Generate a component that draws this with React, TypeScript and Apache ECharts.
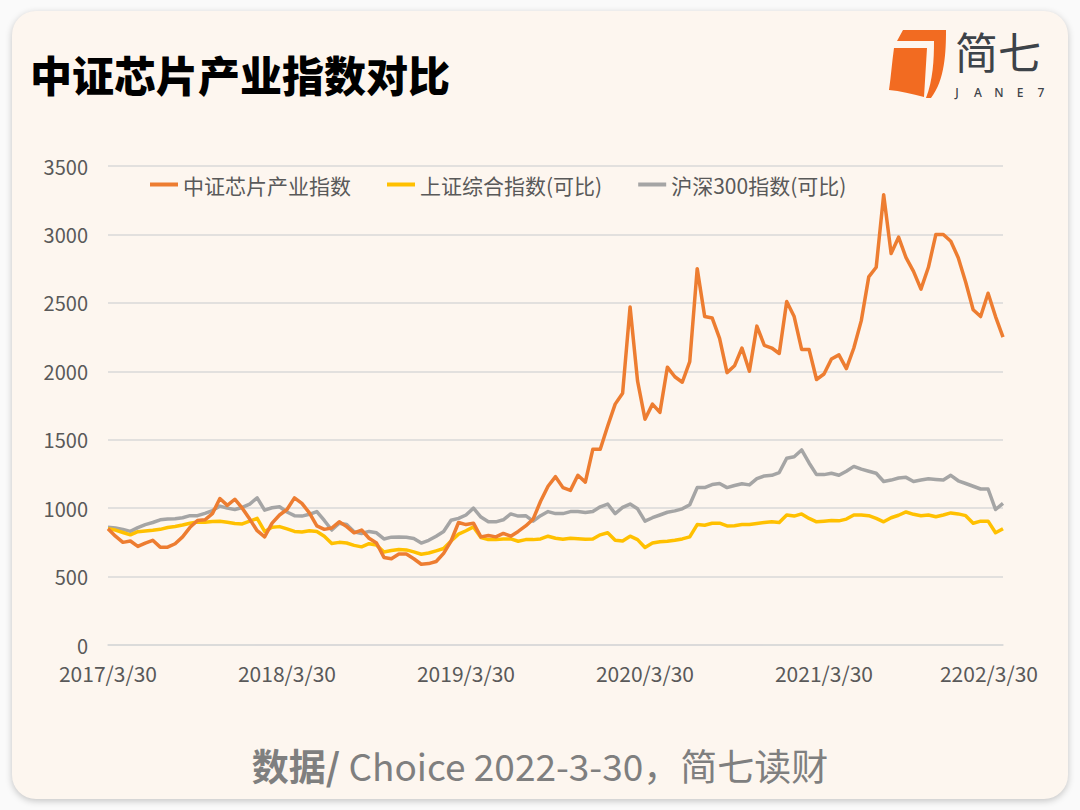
import React, { useEffect, useRef } from "react";
import * as echarts from "echarts";

// Semi-monthly samples from 2017/3/30 to 2022/3/30 (24 per year, 121 points)
const chipIndex = [
  850, 795, 750, 760, 720, 745, 765, 715, 715, 740,
  790, 860, 910, 915, 960, 1070, 1020, 1065, 1000, 920,
  835, 790, 890, 950, 990, 1075, 1035, 965, 870, 845,
  855, 900, 865, 820, 840, 780, 745, 640, 630, 665,
  665, 630, 590, 595, 610, 670, 760, 895, 880, 890,
  790, 800, 790, 815, 795, 830, 870, 920, 1050, 1160,
  1230, 1150, 1130, 1240, 1190, 1430, 1430, 1600, 1760, 1840,
  2470, 1930, 1650, 1760, 1700, 2030, 1960, 1920, 2070, 2750,
  2400, 2390, 2240, 1990, 2040, 2170, 2000, 2330, 2190, 2170,
  2130, 2510, 2400, 2160, 2160, 1940, 1980, 2090, 2120, 2020,
  2170, 2370, 2690, 2760, 3290, 2860, 2980, 2830, 2730, 2600,
  2760, 3000, 3000, 2950, 2830, 2650, 2450, 2400, 2570, 2400,
  2250,
];

const shComposite = [
  850, 840, 822, 805, 828, 833, 838, 845, 858, 866,
  877, 890, 898, 897, 903, 905, 897, 888, 885, 905,
  925, 830, 860, 865, 848, 830, 825, 835, 830, 795,
  742, 750, 745, 728, 717, 740, 730, 680, 690, 698,
  695, 680, 663, 672, 688, 705, 760, 810, 835, 863,
  785, 770, 770, 775, 775, 758, 770, 770, 775, 795,
  780, 772, 780, 776, 772, 775, 805, 820, 765, 760,
  795, 770, 712, 745, 755, 758, 765, 775, 790, 880,
  875, 890, 890, 870, 872, 880, 880, 888, 895, 900,
  895, 950, 942, 958, 925, 900, 905, 910, 907, 920,
  950, 950, 945, 925, 900, 930, 948, 972, 955, 945,
  950, 937, 950, 965, 958, 945, 890, 905, 905, 820,
  850,
];

const hs300 = [
  860, 855, 845, 830, 858, 880, 895, 915, 920, 922,
  930, 945, 945, 962, 982, 1015, 1000, 990, 1005, 1030,
  1075, 985, 1003, 1010, 972, 945, 942, 955, 975, 910,
  840, 890, 880, 828, 815, 830, 820, 775, 788, 790,
  788, 778, 745, 765, 795, 830, 912, 925, 950, 1000,
  935, 900, 900, 915, 958, 942, 945, 905, 945, 975,
  960, 960, 975, 975, 968, 975, 1010, 1030, 960, 1005,
  1030, 995, 905, 930, 950, 970, 980, 995, 1025, 1150,
  1150, 1172, 1180, 1150, 1165, 1178, 1170, 1215, 1235, 1240,
  1260, 1365, 1375, 1425, 1330, 1245, 1245, 1255, 1240, 1270,
  1305, 1285, 1270, 1255, 1195, 1205, 1220, 1225, 1195, 1205,
  1215, 1210, 1205, 1240, 1200, 1180, 1160, 1140, 1140, 990,
  1035,
];

const seriesNames = ["中证芯片产业指数", "上证综合指数(可比)", "沪深300指数(可比)"];
const seriesColors = ["#ED7D31", "#FFC000", "#A5A5A5"];
const xTickLabels = ["2017/3/30", "2018/3/30", "2019/3/30", "2020/3/30", "2021/3/30", "2202/3/30"];
const pointsPerYear = 24;
const yTicks = { min: 0, max: 3500, interval: 500 };

const titleText = "中证芯片产业指数对比";
const sourceBold = "数据/";
const sourceRest = " Choice 2022-3-30，简七读财";

const FONT = '"Noto Sans CJK SC", "Noto Sans", sans-serif';
const LATIN = '"Noto Sans", sans-serif';

// brand mark: two sheet-like pieces
const logoBack =
  "M903 30 L946 30 C946 52 945 80 931 98 L926 98 C933 80 934 60 934 41 L897 41 Z";
const logoFront =
  "M894 48 L927 48 L924 97 C912 94 900 91 889 90 C891 76 892 62 894 48 Z";
echarts.graphic.registerShape("logoBack", echarts.graphic.extendPath(logoBack, {}) as any);
echarts.graphic.registerShape("logoFront", echarts.graphic.extendPath(logoFront, {}) as any);

export default function App() {
  const ref = useRef<HTMLDivElement>(null);

  useEffect(() => {
    if (!ref.current) return;
    const chart = echarts.init(ref.current, undefined, { renderer: "svg" });
    const categories = chipIndex.map((_, i) => String(i));
    const lastIdx = categories.length - 1;

    const brandLetters = ["J", "A", "N", "E", "7"];

    chart.setOption({
      animation: false,
      backgroundColor: "transparent",
      textStyle: { fontFamily: FONT },
      grid: { left: 108, right: 77, top: 166, bottom: 165, containLabel: false },
      legend: {
        left: 150,
        top: 174,
        padding: 0,
        icon: "rect",
        itemWidth: 28,
        itemHeight: 4,
        itemGap: 36,
        textStyle: { color: "#595959", fontSize: 21, fontFamily: FONT },
        data: seriesNames,
      },
      xAxis: {
        type: "category",
        boundaryGap: false,
        data: categories,
        axisLine: { show: true, lineStyle: { color: "#d9d9d9", width: 1.5 } },
        axisTick: { show: false },
        splitLine: { show: false },
        axisLabel: {
          interval: (idx: number) => idx % pointsPerYear === 0,
          margin: 17,
          color: "#595959",
          fontSize: 21,
          lineHeight: 21,
          fontFamily: FONT,
          formatter: (_v: string, idx: number) => {
            const label = xTickLabels[Math.round(idx / pointsPerYear)];
            return idx === lastIdx ? `{shift|${label}}` : label;
          },
          rich: {
            shift: {
              fontSize: 21,
              lineHeight: 21,
              color: "#595959",
              fontFamily: FONT,
              padding: [0, 28, 0, 0],
            },
          },
        },
      },
      yAxis: {
        type: "value",
        min: yTicks.min,
        max: yTicks.max,
        interval: yTicks.interval,
        axisLine: { show: false },
        axisTick: { show: false },
        splitLine: { lineStyle: { color: "#d9d9d9", width: 1.5 } },
        axisLabel: {
          color: "#595959",
          fontSize: 20,
          lineHeight: 20,
          margin: 20,
          fontFamily: FONT,
          formatter: (v: number) => String(v),
        },
      },
      series: [chipIndex, shComposite, hs300].map((data, k) => ({
        name: seriesNames[k],
        type: "line",
        data,
        showSymbol: false,
        symbol: "none",
        z: 3 - k,
        lineStyle: { color: seriesColors[k], width: 3.5, join: "round" },
        itemStyle: { color: seriesColors[k] },
      })),
      graphic: [
        {
          type: "text",
          left: 30,
          top: 52,
          style: { text: titleText, fill: "#000", font: `900 42px ${FONT}` },
        },
        { type: "logoBack", x: 0, y: 0, style: { fill: "#F26B21" } },
        { type: "logoFront", x: 0, y: 0, style: { fill: "#F26B21" } },
        {
          type: "text",
          x: 955,
          y: 50,
          style: {
            text: "简七",
            fill: "#3d4349",
            font: `400 43px ${FONT}`,
            verticalAlign: "middle",
            lineHeight: 43,
          },
        },
        ...brandLetters.map((ch, i) => ({
          type: "text",
          x: 957 + i * 21,
          y: 92,
          style: {
            text: ch,
            fill: "#3d4349",
            font: `500 12px ${LATIN}`,
            align: "center",
            verticalAlign: "middle",
            lineHeight: 12,
          },
        })),
        {
          type: "text",
          x: 540,
          y: 765,
          style: {
            text: `{b|${sourceBold}}{r|${sourceRest}}`,
            align: "center",
            verticalAlign: "middle",
            rich: {
              b: { fontSize: 37, fontWeight: "bold", fill: "#7f7f7f", fontFamily: FONT },
              r: { fontSize: 37, fontWeight: "normal", fill: "#7f7f7f", fontFamily: FONT },
            },
          },
        },
      ],
    });

    return () => chart.dispose();
  }, []);

  return (
    <div style={{ position: "fixed", left: 0, top: 0, width: 1080, height: 810, background: "#fafafa" }}>
      <div
        style={{
          position: "absolute",
          left: 12,
          top: 11,
          width: 1056,
          height: 788,
          borderRadius: 24,
          background: "#fdf6ef",
          boxShadow: "0 2px 7px rgba(0,0,0,0.22)",
        }}
      />
      <div ref={ref} style={{ position: "absolute", left: 0, top: 0, width: 1080, height: 810 }} />
    </div>
  );
}
